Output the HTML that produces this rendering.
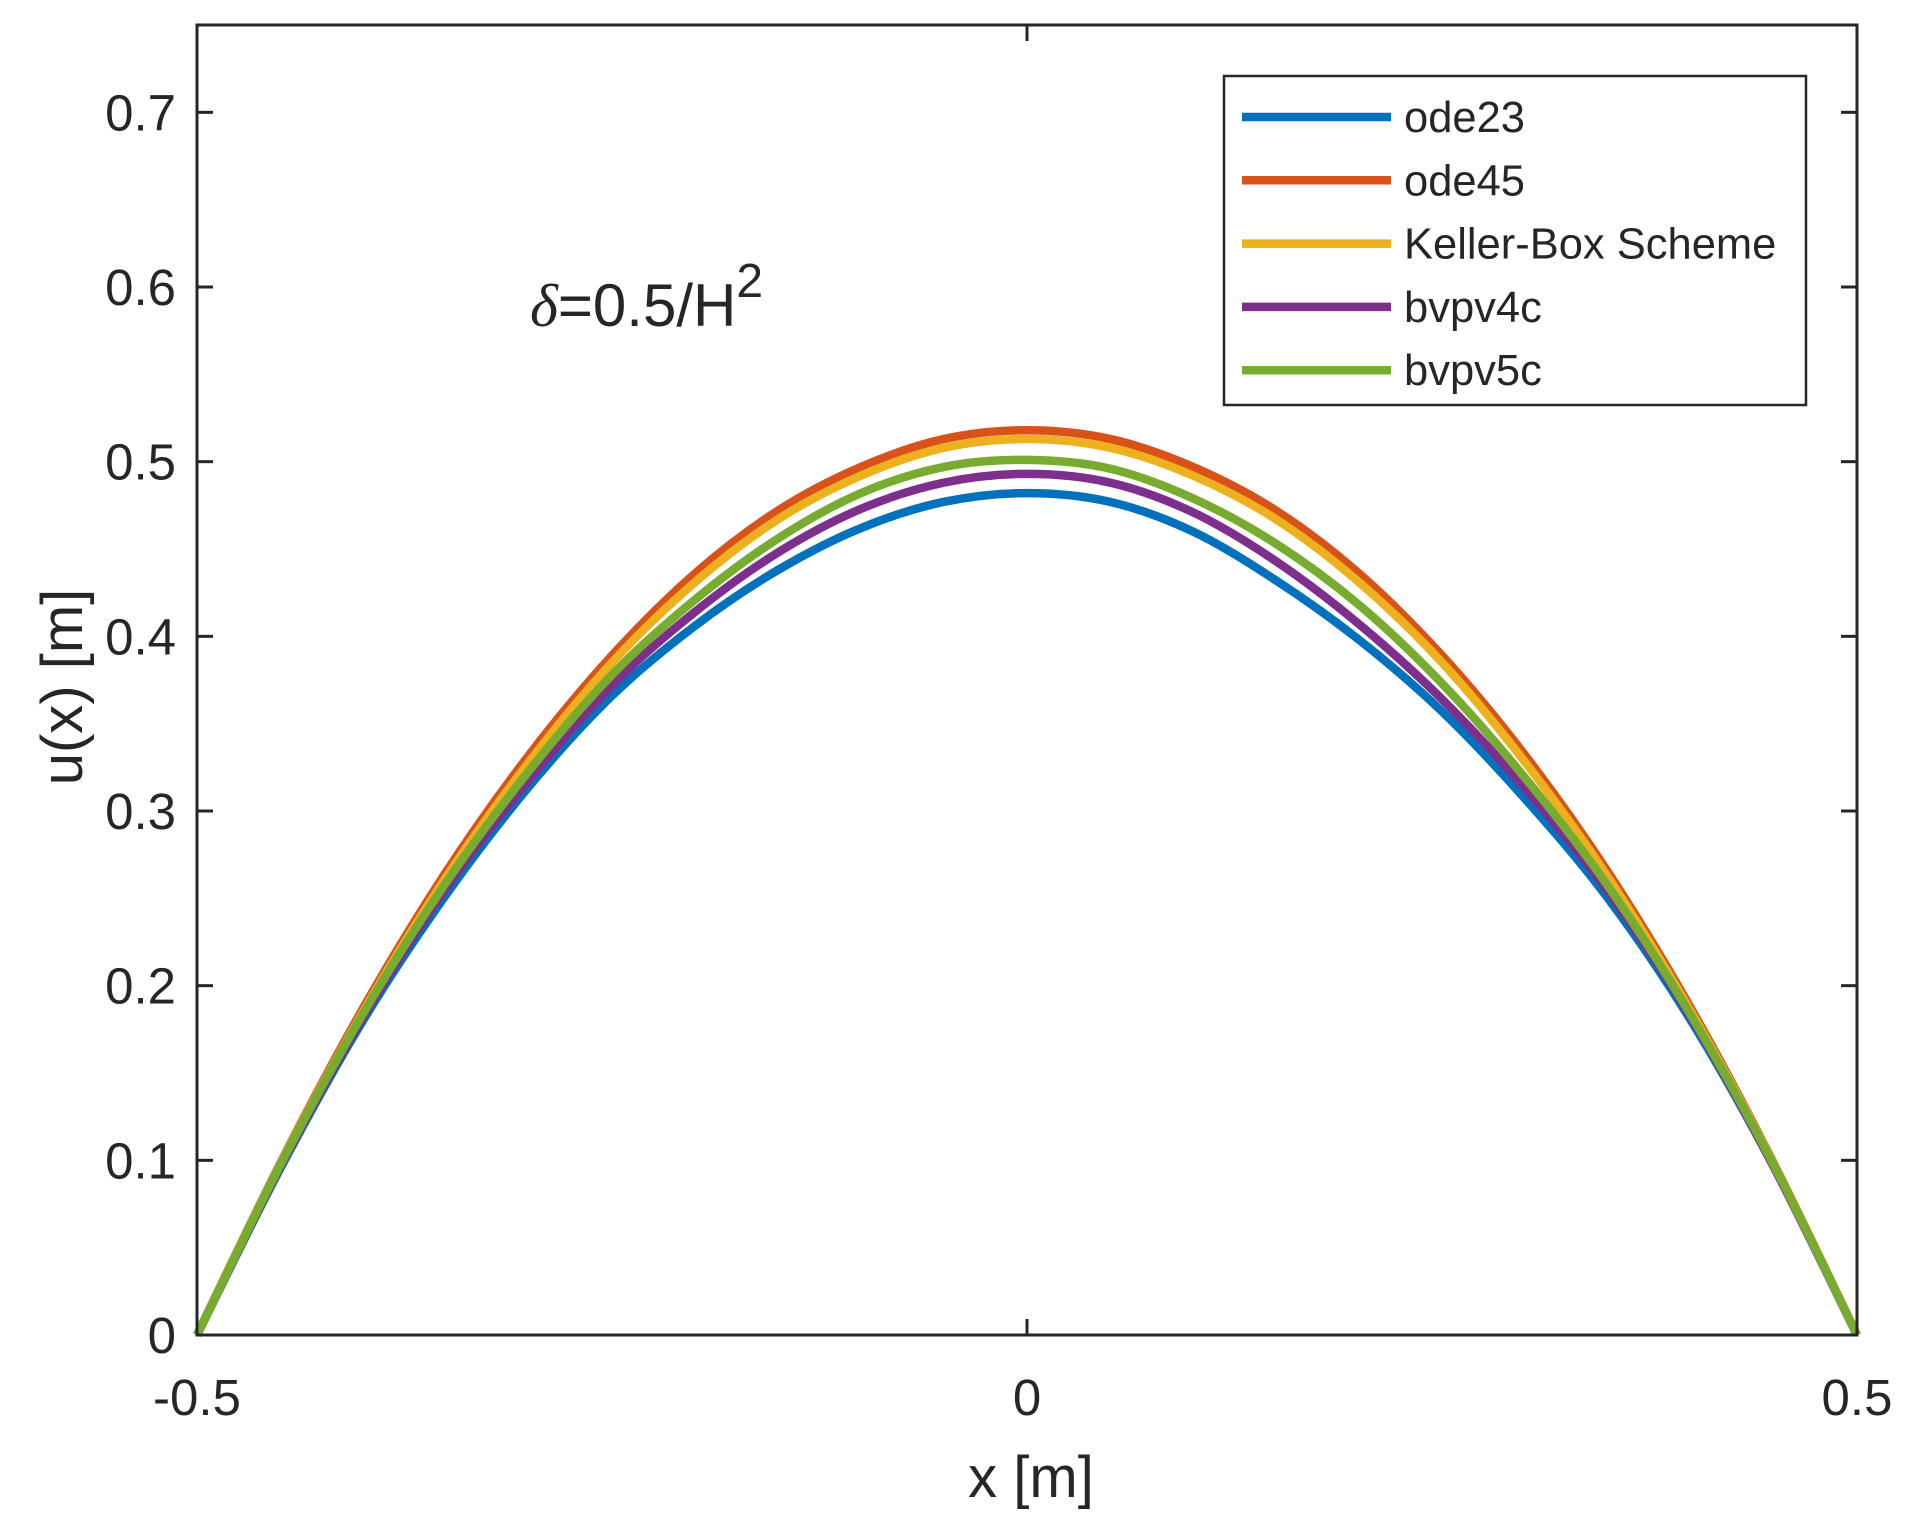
<!DOCTYPE html>
<html><head><meta charset="utf-8"><style>body{margin:0;background:#fff}svg{display:block}text{font-family:"Liberation Sans",Arial,sans-serif;fill:#262626}</style></head>
<body>
<svg id="chart" width="1915" height="1525" viewBox="0 0 1915 1525" xmlns="http://www.w3.org/2000/svg">
<g id="plot"></g>
</svg>
<script>
const xs=[-0.5,-0.45,-0.4,-0.35,-0.3,-0.25,-0.2,-0.15,-0.1,-0.05,0,0.05,0.1,0.15,0.2,0.25,0.3,0.35,0.4,0.45,0.5];
const ode23=[0,0.095,0.180,0.252,0.314,0.366,0.406,0.438,0.462,0.477,0.482,0.477,0.460,0.432,0.398,0.357,0.307,0.250,0.180,0.096,0];
const ode45=[0,0.098,0.187,0.265,0.332,0.389,0.436,0.472,0.497,0.513,0.518,0.513,0.497,0.472,0.436,0.389,0.332,0.265,0.187,0.098,0];
const keller=[0,0.0975,0.185,0.262,0.328,0.385,0.431,0.467,0.492,0.508,0.513,0.508,0.492,0.467,0.431,0.385,0.328,0.262,0.185,0.0975,0];
const bvp4c=[0,0.096,0.182,0.256,0.318,0.372,0.414,0.448,0.473,0.488,0.493,0.488,0.471,0.443,0.407,0.364,0.313,0.254,0.182,0.096,0];
const bvp5c=[0,0.097,0.184,0.259,0.323,0.378,0.421,0.456,0.482,0.497,0.501,0.496,0.479,0.453,0.418,0.373,0.319,0.257,0.183,0.097,0];
const seriesNames=["ode23","ode45","Keller-Box Scheme","bvpv4c","bvpv5c"];
const seriesColors=["#0072bd","#d95319","#edb120","#7e2f8e","#77ac30"];
const yTicks=[0,0.1,0.2,0.3,0.4,0.5,0.6,0.7];
const xTicks=[-0.5,0,0.5];
const xTickLabels=["-0.5","0","0.5"];

const L=197,R=1857,T=25,B=1335,ymax=0.75;
const sx=x=>L+(x+0.5)*(R-L);
const sy=y=>B-y/ymax*(B-T);
const NS="http://www.w3.org/2000/svg";
const g=document.getElementById('plot');
function mk(tag,attrs,parent){const e=document.createElementNS(NS,tag);for(const k in attrs)e.setAttribute(k,attrs[k]);(parent||g).appendChild(e);return e;}

const all=[ode23,ode45,keller,bvp4c,bvp5c];
all.forEach((s,i)=>{
  const pts=xs.map((x,j)=>[sx(x),sy(s[j])]);
  let d=`M${pts[0][0]},${pts[0][1]}`;
  for(let j=0;j<pts.length-1;j++){
    const p0=pts[Math.max(0,j-1)],p1=pts[j],p2=pts[j+1],p3=pts[Math.min(pts.length-1,j+2)];
    d+=` C${p1[0]+(p2[0]-p0[0])/6},${p1[1]+(p2[1]-p0[1])/6} ${p2[0]-(p3[0]-p1[0])/6},${p2[1]-(p3[1]-p1[1])/6} ${p2[0]},${p2[1]}`;
  }
  const p=mk('path',{d:d,fill:'none',stroke:seriesColors[i],'stroke-width':8.5,'stroke-linejoin':'round'});
  
  
});

const box=mk('rect',{x:L,y:T,width:R-L,height:B-T,fill:'none',stroke:'#262626','stroke-width':3});


yTicks.forEach(v=>{
  const y=sy(v);
  mk('line',{x1:L,x2:L+16,y1:y,y2:y,stroke:'#262626','stroke-width':3});
  mk('line',{x1:R,x2:R-16,y1:y,y2:y,stroke:'#262626','stroke-width':3});
  const t=mk('text',{x:176,y:y+18,'text-anchor':'end','font-size':51});
  t.textContent=String(v);
  
  
});
xTicks.forEach((v,i)=>{
  const x=sx(v);
  mk('line',{x1:x,x2:x,y1:B,y2:B-16,stroke:'#262626','stroke-width':3});
  mk('line',{x1:x,x2:x,y1:T,y2:T+16,stroke:'#262626','stroke-width':3});
  const t=mk('text',{x:x,y:1415,'text-anchor':'middle','font-size':51});
  t.textContent=xTickLabels[i];
  
  
});
const lg=mk('g',{});


mk('rect',{x:1224,y:76,width:582,height:329,fill:'#fff',stroke:'#262626','stroke-width':2.5},lg);
seriesNames.forEach((n,i)=>{
  const y=117+i*63.3;
  const e=mk('g',{},lg);
  
  
  mk('line',{x1:1242,x2:1391,y1:y,y2:y,stroke:seriesColors[i],'stroke-width':8.5},e);
  const t=mk('text',{x:1404,y:y+15,'font-size':43.5},e);
  t.textContent=n;
});
</script>
<svg style="position:absolute;left:0;top:0" width="1915" height="1525">
<text x="530" y="326" font-size="60"><tspan font-style="italic" font-family="Liberation Serif">δ</tspan>=0.5/H<tspan dy="-29" font-size="48">2</tspan></text>
<text x="1031" y="1497" text-anchor="middle" font-size="58">x [m]</text>
<text x="0" y="0" transform="translate(82,687) rotate(-90)" text-anchor="middle" font-size="58">u(x) [m]</text>
</svg>
</body></html>
